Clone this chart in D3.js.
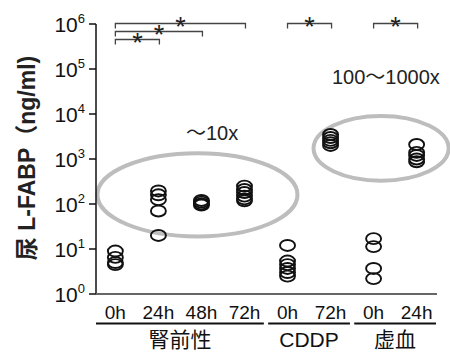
<!DOCTYPE html>
<html>
<head>
    <meta charset="utf-8" />
    <title>L-FABP</title>
    <script src="https://cdn.jsdelivr.net/npm/d3@7"></script>
    <style>
        body { margin: 0; background: #fff; }
        text { font-family: "Liberation Sans", Arial, "Noto Sans CJK JP", sans-serif; }
    </style>
</head>
<body>
    <script>
        // time points (x categories), grouped by condition
        var timeLabels = ["0h", "24h", "48h", "72h", "0h", "72h", "0h", "24h"];
        var groupNames = ["腎前性", "CDDP", "虚血"];
        var groupFirst = [0, 4, 6];
        var groupLast = [3, 5, 7];

        // urinary L-FABP values (ng/ml) per time point
        var pre0h = [9, 6.5, 5, 4.5];
        var pre24h = [195, 160, 125, 70, 20];
        var pre48h = [120, 110, 100, 95];
        var pre72h = [250, 210, 180, 150, 130, 118];
        var cddp0h = [12, 5.4, 4.5, 3.7, 3.0, 2.5];
        var cddp72h = [3500, 3000, 2600, 2300, 2000];
        var isch0h = [17, 11.3, 3.7, 2.2];
        var isch24h = [2100, 1400, 1200, 1000, 870];
        var series = [pre0h, pre24h, pre48h, pre72h, cddp0h, cddp72h, isch0h, isch24h];

        var yTickExp = [0, 1, 2, 3, 4, 5, 6];

        // significance brackets: from / to category index, stacking level
        var bracketFrom = [0, 0, 0, 4, 6];
        var bracketTo = [3, 2, 1, 5, 7];
        var bracketLevel = [0, 1, 2, 0, 0];

        // highlight ellipses: category span and value span
        var circleFrom = [1, 5];
        var circleTo = [3, 7];
        var circleLow = [19, 330];
        var circleHigh = [1350, 9000];
        var circleLabels = ["～10x", "100～1000x"];

        var width = 450;
        var height = 352;

        var svg = d3.select("body").append("svg")
            .attr("width", width)
            .attr("height", height);

        var keys = timeLabels.map(function (d, i) { return i; });
        var x = d3.scalePoint().domain(keys).range([96, 436]).padding(0.45);
        var y = d3.scaleLog().domain([1, 1e6]).range([294, 24]);
        var step = x.step();

        // grey ellipses
        circleFrom.forEach(function (f, i) {
            var x0 = x(f) - 61, x1 = x(circleTo[i]) + 53;
            if (i == 1) { x0 = x(f) - 17; x1 = x(circleTo[i]) + 32; }
            var yTop = y(circleHigh[i]), yBot = y(circleLow[i]);
            svg.append("ellipse")
                .attr("cx", (x0 + x1) / 2)
                .attr("cy", (yTop + yBot) / 2)
                .attr("rx", (x1 - x0) / 2)
                .attr("ry", (yBot - yTop) / 2)
                .attr("fill", "none")
                .attr("stroke", "#bdbdbd")
                .attr("stroke-width", 4);
        });

        svg.append("text").attr("x", 186).attr("y", 140)
            .style("font-size", "20px").style("fill", "#222").text(circleLabels[0]);
        svg.append("text").attr("x", 332).attr("y", 84)
            .style("font-size", "20px").style("fill", "#222").text(circleLabels[1]);

        // y axis
        svg.append("line")
            .attr("x1", 96).attr("x2", 96)
            .attr("y1", y(1e6)).attr("y2", y(1))
            .attr("stroke", "#111").attr("stroke-width", 1.5);

        var ticks = svg.selectAll(".ytick").data(yTickExp).enter().append("g")
            .attr("class", "ytick")
            .attr("transform", function (d) { return "translate(0," + y(Math.pow(10, d)) + ")"; });
        ticks.append("line")
            .attr("x1", 89).attr("x2", 96)
            .attr("stroke", "#111").attr("stroke-width", 1.5);
        var tl = ticks.append("text")
            .attr("x", 85).attr("y", 8)
            .attr("text-anchor", "end")
            .style("font-size", "21px")
            .style("fill", "#111");
        tl.append("tspan").text("10");
        tl.append("tspan").attr("dy", -9).style("font-size", "13px").text(function (d) { return d; });

        // x axis line
        svg.append("line")
            .attr("x1", 96).attr("x2", 437)
            .attr("y1", y(1)).attr("y2", y(1))
            .attr("stroke", "#666").attr("stroke-width", 2);

        // y title
        svg.append("text")
            .attr("transform", "translate(35,158) rotate(-90)")
            .attr("text-anchor", "middle")
            .style("font-size", "23px")
            .style("font-weight", "bold")
            .style("fill", "#222")
            .text("尿 L-FABP（ng/ml)");

        // data points
        series.forEach(function (vals, i) {
            svg.selectAll(".pt" + i).data(vals).enter().append("ellipse")
                .attr("class", "pt" + i)
                .attr("cx", x(i))
                .attr("cy", function (d) { return y(d); })
                .attr("rx", 7.5)
                .attr("ry", 5.5)
                .attr("fill", "none")
                .attr("stroke", "#111")
                .attr("stroke-width", 1.9);
        });

        // time labels
        svg.selectAll(".tlab").data(keys).enter().append("text")
            .attr("class", "tlab")
            .attr("x", function (d) { return x(d); })
            .attr("y", 319)
            .attr("text-anchor", "middle")
            .style("font-size", "19px")
            .style("fill", "#111")
            .text(function (d) { return timeLabels[d]; });

        // group underlines and names
        groupNames.forEach(function (g, i) {
            var x0 = x(groupFirst[i]) - step * 0.45;
            var x1 = x(groupLast[i]) + step * 0.45;
            svg.append("line")
                .attr("x1", x0).attr("x2", x1)
                .attr("y1", 323.5).attr("y2", 323.5)
                .attr("stroke", "#111").attr("stroke-width", 2);
            svg.append("text")
                .attr("x", (x0 + x1) / 2)
                .attr("y", 347)
                .attr("text-anchor", "middle")
                .style("font-size", "21px")
                .style("fill", "#111")
                .text(g);
        });

        // significance brackets
        bracketFrom.forEach(function (f, i) {
            var x0 = x(f), x1 = x(bracketTo[i]) + 1;
            var by = 23.5 + bracketLevel[i] * 8;
            svg.append("path")
                .attr("d", "M" + x0 + "," + (by + 5) + "V" + by + "H" + x1 + "V" + (by + 5))
                .attr("fill", "none")
                .attr("stroke", "#444")
                .attr("stroke-width", 1.3);
            svg.append("text")
                .attr("x", (x0 + x1) / 2)
                .attr("y", by + 12)
                .attr("text-anchor", "middle")
                .style("font-size", "27px")
                .style("fill", "#222")
                .text("*");
        });
    </script>
</body>
</html>
